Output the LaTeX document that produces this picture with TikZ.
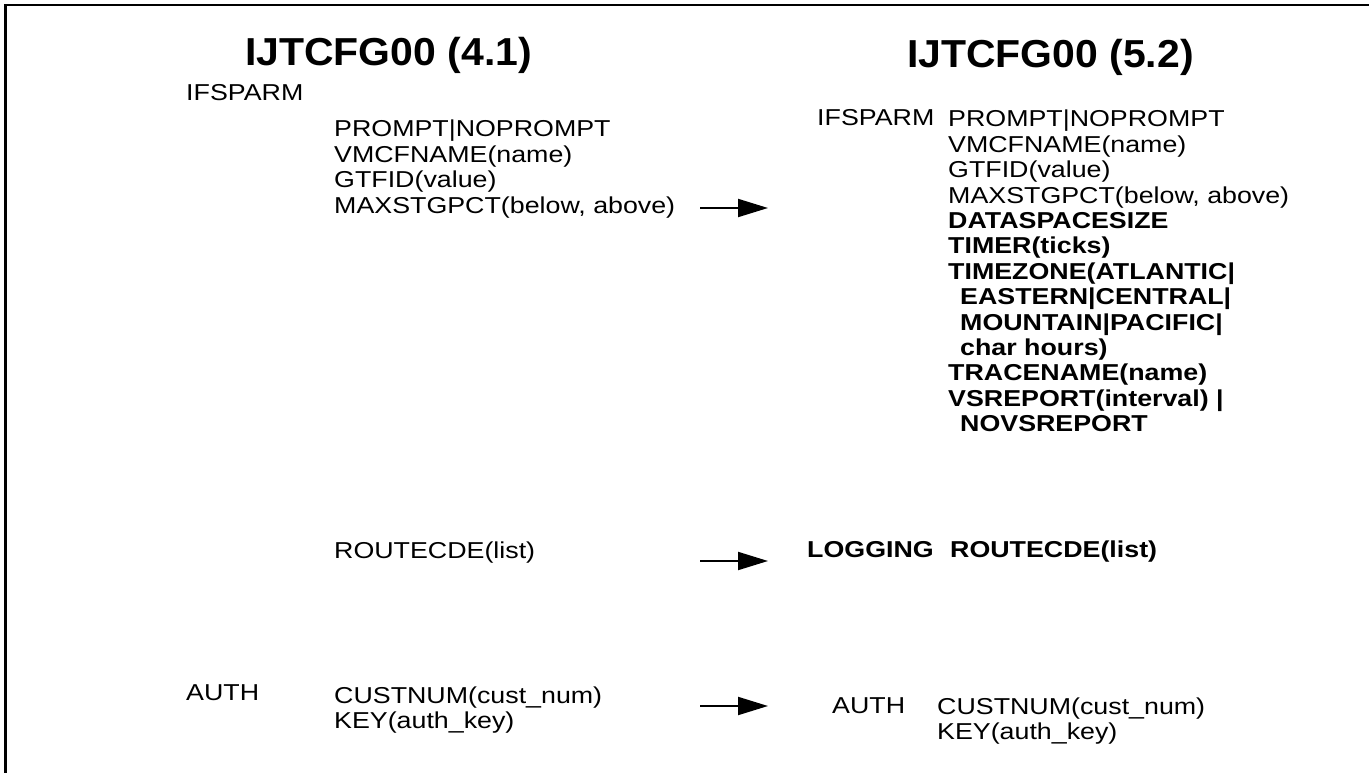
\documentclass[tikz,border=0pt]{standalone}
\usepackage{fontspec}
\setmainfont{Liberation Sans}[FakeStretch=1.165]
\newfontfamily\titlefont{Liberation Sans}[FakeStretch=1.05]
\usetikzlibrary{arrows.meta}
\newcommand{\stk}[1]{\vtop{\halign{##\hfil\cr #1\crcr}}}
\tikzset{
  txt/.style={anchor=base west, inner sep=0pt, font=\fontsize{23}{25.4}\selectfont},
  ttl/.style={anchor=base west, inner sep=0pt, font=\titlefont\bfseries\fontsize{39}{44}\selectfont},
  arr/.style={line width=2pt, -{Triangle[length=30pt,width=18pt]}},
  frame/.style={line width=2.6pt}
}
\begin{document}
\begin{tikzpicture}[x=1pt,y=-1pt]
\useasboundingbox (0,0) rectangle (1369,773);
% frame (left and top)
\draw[frame] (5.5,773) -- (5.5,5) -- (1369,5);
% titles
\node[ttl] (t1) at (245,65.5) {IJTCFG00 (4.1)};
\node[ttl,anchor=base east] (t2) at (1194,68) {IJTCFG00 (5.2)};
% left column
\node[txt] (lifs) at (186,101) {IFSPARM};
\node[txt] (lpar) at (334,137) {\stk{PROMPT|NOPROMPT\cr VMCFNAME(name)\cr GTFID(value)\cr MAXSTGPCT(below, above)}};
\node[txt] (lrc) at (334,558) {ROUTECDE(list)};
\node[txt] (lauth) at (186,700) {AUTH};
\node[txt] (lcust) at (334,703) {\stk{CUSTNUM(cust\_num)\cr KEY(auth\_key)}};
% right column
\node[txt] (rifs) at (817,126) {IFSPARM};
\node[txt] (rpar) at (948,127) {\stk{PROMPT|NOPROMPT\cr VMCFNAME(name)\cr GTFID(value)\cr MAXSTGPCT(below, above)\cr
 \bfseries DATASPACESIZE\cr
 \bfseries TIMER(ticks)\cr
 \bfseries TIMEZONE(ATLANTIC|\cr
 \hskip12pt\bfseries EASTERN|CENTRAL|\cr
 \hskip12pt\bfseries MOUNTAIN|PACIFIC|\cr
 \hskip12pt\bfseries char hours)\cr
 \bfseries TRACENAME(name)\cr
 \bfseries VSREPORT(interval) |\cr
 \hskip12pt\bfseries NOVSREPORT}};
\node[txt,font=\fontsize{23}{25.4}\selectfont\bfseries] (rlog) at (807,557) {LOGGING};
\node[txt,font=\fontsize{23}{25.4}\selectfont\bfseries] (rrc) at (950,557) {ROUTECDE(list)};
\node[txt] (rauth) at (832,713) {AUTH};
\node[txt] (rcust) at (937,714) {\stk{CUSTNUM(cust\_num)\cr KEY(auth\_key)}};
% arrows
\coordinate (a1s) at (700,208);
\coordinate (a1e) at (768,208);
\coordinate (a2s) at (700,561);
\coordinate (a2e) at (768,561);
\coordinate (a3s) at (700,706);
\coordinate (a3e) at (768,706);
\draw[arr] (a1s) -- (a1e);
\draw[arr] (a2s) -- (a2e);
\draw[arr] (a3s) -- (a3e);
\end{tikzpicture}
\end{document}
